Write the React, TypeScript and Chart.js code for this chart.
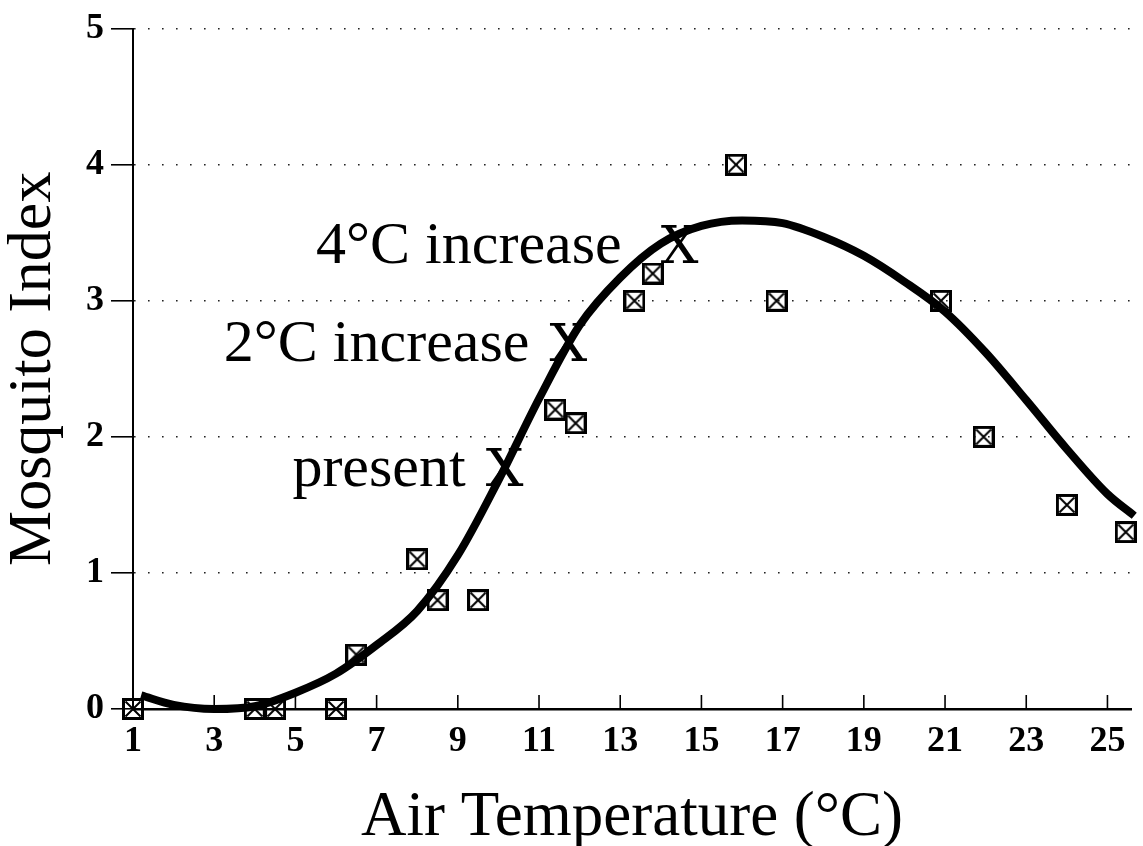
import React, { useEffect, useRef } from 'react';
import { Chart, registerables } from 'chart.js';

Chart.register(...registerables);

// ---- data ----
const xTickValues = [1, 3, 5, 7, 9, 11, 13, 15, 17, 19, 21, 23, 25];
const yTickValues = [0, 1, 2, 3, 4, 5];

// observed points (boxed X markers)
const obsTemp = [1, 4, 4.5, 6, 6.5, 8, 8.5, 9.5, 11.4, 11.9, 13.35, 13.8, 15.85, 16.85, 20.9, 21.95, 24, 25.45];
const obsIndex = [0, 0, 0, 0, 0.4, 1.1, 0.8, 0.8, 2.2, 2.1, 3.0, 3.2, 4.0, 3.0, 3.0, 2.0, 1.5, 1.3];

// fitted curve
const fitTemp = [1.2, 2, 3, 4, 5, 6, 7, 8, 9, 10, 11, 12, 13, 14, 15, 16, 17, 18, 19, 20, 21, 22, 23, 24, 25, 25.66];
const fitIndex = [0.1, 0.03, 0.0, 0.02, 0.12, 0.26, 0.47, 0.72, 1.13, 1.68, 2.28, 2.82, 3.17, 3.42, 3.55, 3.59, 3.57, 3.47, 3.33, 3.14, 2.92, 2.62, 2.27, 1.91, 1.58, 1.42];

// scenario annotations
const scenarioLabels = ['present', '2°C increase', '4°C increase'];
const scenarioTemp = [10.15, 11.72, 14.46];
const scenarioIndex = [1.777, 2.697, 3.416];

const xTitle = 'Air Temperature (°C)';
const yTitle = 'Mosquito Index';

const SERIF = '"Liberation Serif", "Times New Roman", serif';

function makeBoxX(): HTMLCanvasElement {
  const c = document.createElement('canvas');
  const s = 22;
  c.width = s;
  c.height = s;
  const g = c.getContext('2d')!;
  g.strokeStyle = '#000';
  g.lineWidth = 3;
  g.strokeRect(1.5, 1.5, s - 3, s - 3);
  g.lineWidth = 2;
  g.beginPath();
  g.moveTo(3.5, 3.5);
  g.lineTo(s - 3.5, s - 3.5);
  g.moveTo(s - 3.5, 3.5);
  g.lineTo(3.5, s - 3.5);
  g.stroke();
  return c;
}

const overlayPlugin = {
  id: 'overlay',
  afterDatasetsDraw(chart: any) {
    const { ctx, chartArea } = chart;
    const x = chart.scales.x;
    const y = chart.scales.y;
    ctx.save();
    // inward tick marks on the x axis
    ctx.strokeStyle = '#000';
    ctx.lineWidth = 1.6;
    xTickValues.forEach((v) => {
      const px = x.getPixelForValue(v);
      ctx.beginPath();
      ctx.moveTo(px, chartArea.bottom);
      ctx.lineTo(px, chartArea.bottom - 14);
      ctx.stroke();
    });
    // scenario annotations
    ctx.fillStyle = '#000';
    const gaps = [20, 20, 39];
    scenarioLabels.forEach((lab, i) => {
      const px = x.getPixelForValue(scenarioTemp[i]);
      const py = y.getPixelForValue(scenarioIndex[i]);
      const base = py + 19;
      ctx.font = '53px "DejaVu Serif"';
      const xw = ctx.measureText('X').width;
      ctx.textAlign = 'center';
      ctx.textBaseline = 'alphabetic';
      ctx.fillText('X', px, base);
      ctx.font = '60px ' + SERIF;
      ctx.textAlign = 'right';
      ctx.fillText(lab, px - xw / 2 - gaps[i], base);
    });
    ctx.restore();
  },
};

export default function App() {
  const canvasRef = useRef<HTMLCanvasElement | null>(null);

  useEffect(() => {
    document.body.style.margin = '0';
    const canvas = canvasRef.current;
    if (!canvas) return;
    const boxX = makeBoxX();

    const chart = new Chart(canvas, {
      type: 'scatter',
      data: {
        datasets: [
          {
            type: 'line',
            label: 'fit',
            data: fitTemp.map((t, i) => ({ x: t, y: fitIndex[i] })),
            borderColor: '#000',
            borderWidth: 8,
            pointRadius: 0,
            fill: false,
            cubicInterpolationMode: 'monotone',
            clip: false,
            order: 2,
          } as any,
          {
            label: 'observed',
            data: obsTemp.map((t, i) => ({ x: t, y: obsIndex[i] })),
            pointStyle: boxX as any,
            pointRadius: 11,
            borderColor: '#000',
            backgroundColor: 'rgba(0,0,0,0)',
            clip: false,
            order: 1,
          } as any,
        ],
      },
      options: {
        responsive: false,
        maintainAspectRatio: false,
        animation: false,
        events: [],
        layout: { padding: { top: 24, left: 0, right: 0, bottom: 0 } },
        plugins: {
          legend: { display: false },
          tooltip: { enabled: false },
        },
        scales: {
          x: {
            type: 'linear',
            min: 1,
            max: 25.58,
            afterBuildTicks: (s: any) => {
              s.ticks = xTickValues.map((v) => ({ value: v }));
            },
            afterFit: (s: any) => {
              s.height = 137;
            },
            grid: { display: false, drawTicks: false },
            border: { display: true, color: '#000', width: 2.5 },
            ticks: {
              color: '#000',
              font: { family: SERIF, size: 36, weight: 'bold' },
              padding: 11,
              maxRotation: 0,
              autoSkip: false,
            },
            title: {
              display: true,
              text: xTitle,
              color: '#000',
              font: { family: SERIF, size: 63 },
              padding: { top: 0, bottom: -10 },
            },
          },
          y: {
            type: 'linear',
            min: 0,
            max: 5,
            afterBuildTicks: (s: any) => {
              s.ticks = yTickValues.map((v) => ({ value: v }));
            },
            afterFit: (s: any) => {
              s.width = 133;
            },
            grid: {
              display: true,
              color: '#222',
              lineWidth: 1.6,
              drawTicks: true,
              tickLength: 22,
              tickColor: '#000',
              tickWidth: 1.6,
            },
            border: { display: true, color: '#000', width: 2, dash: [1.6, 12.4] },
            ticks: {
              color: '#000',
              font: { family: SERIF, size: 36, weight: 'bold' },
              padding: 7,
            },
            title: {
              display: true,
              text: yTitle,
              color: '#000',
              font: { family: SERIF, size: 62 },
              padding: { top: -3, bottom: 0 },
            },
          },
        },
      } as any,
      plugins: [overlayPlugin],
    });

    return () => {
      chart.destroy();
    };
  }, []);

  return (
    <div style={{ width: 1143, height: 846, overflow: 'hidden', background: '#fff' }}>
      <canvas ref={canvasRef} width={1143} height={846} style={{ display: 'block' }} />
    </div>
  );
}
